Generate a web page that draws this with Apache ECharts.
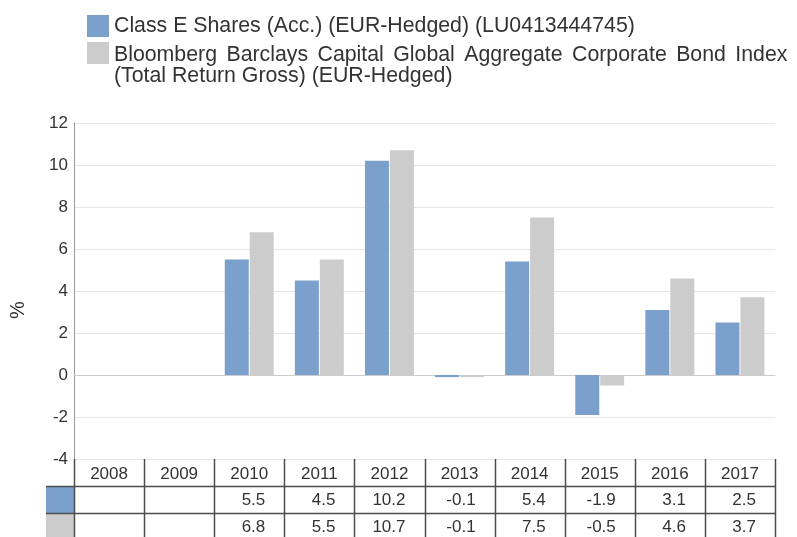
<!DOCTYPE html>
<html>
<head>
<meta charset="utf-8">
<script src="https://cdn.jsdelivr.net/npm/echarts@6/dist/echarts.min.js"></script>
<style>html,body{margin:0;padding:0;background:#fff}#c{width:797px;height:537px}</style>
</head>
<body>
<div id="c"></div>
<script>
var categories = ['2008','2009','2010','2011','2012','2013','2014','2015','2016','2017'];
var fundName = 'Class E Shares (Acc.) (EUR-Hedged) (LU0413444745)';
var indexName = 'Bloomberg Barclays Capital Global Aggregate Corporate Bond Index (Total Return Gross) (EUR-Hedged)';
var fundValues = [null, null, 5.5, 4.5, 10.2, -0.1, 5.4, -1.9, 3.1, 2.5];
var indexValues = [null, null, 6.8, 5.5, 10.7, -0.1, 7.5, -0.5, 4.6, 3.7];
var yTicks = { min: -4, max: 12, interval: 2 };

var fundColor = '#7aa0cb';
var indexColor = '#cccccc';
var FONT = '"Liberation Sans", Arial, sans-serif';
var LFS = 21.3;
var AFS = 17;

var chart = echarts.init(document.getElementById('c'), null, { renderer: 'canvas' });

function indexFormatter() {
  var words = ['Bloomberg','Barclays','Capital','Global','Aggregate','Corporate','Bond','Index'];
  var line1 = words.map(function (w) { return '{t|' + w + '}'; }).join('{s|  }');
  return line1 + '\n{t|(Total Return Gross) (EUR-Hedged)}';
}

var option = {
  animation: false,
  backgroundColor: '#fff',
  textStyle: { fontFamily: FONT },
  legend: [{
    data: [{ name: fundName, icon: 'rect' }],
    left: 87, top: 13.5, padding: 0,
    itemWidth: 22, itemHeight: 22, itemGap: 0,
    selectedMode: false,
    textStyle: { fontSize: LFS, color: '#333', fontFamily: FONT, lineHeight: 21, padding: [4, 0, 0, 0] }
  }, {
    data: [{ name: indexName, icon: 'rect' }],
    left: 87, top: 19.5, padding: 0,
    itemWidth: 22, itemHeight: 22, itemGap: 0,
    selectedMode: false,
    formatter: indexFormatter,
    textStyle: {
      fontSize: LFS, color: '#333', fontFamily: FONT, lineHeight: 21,
      padding: [25, 0, 0, 0],
      rich: {
        t: { fontSize: LFS, color: '#333', fontFamily: FONT, lineHeight: 21 },
        s: { fontSize: 17, color: '#333', fontFamily: FONT, lineHeight: 21 }
      }
    }
  }],
  grid: { left: 70, right: 22, top: 123, bottom: 78, containLabel: false },
  xAxis: {
    type: 'category',
    data: categories,
    axisLine: { show: true, lineStyle: { color: '#cccccc', width: 1 } },
    axisTick: { show: false },
    axisLabel: { color: '#333', fontSize: AFS, margin: 7, fontFamily: FONT },
    splitLine: { show: false }
  },
  yAxis: {
    type: 'value',
    min: yTicks.min, max: yTicks.max, interval: yTicks.interval,
    name: '%',
    nameLocation: 'middle',
    nameRotate: 90,
    nameGap: 46,
    nameTextStyle: { fontSize: 20, color: '#333', fontFamily: FONT, padding: [0, 38, 0, 0] },
    axisLine: { show: true, lineStyle: { color: '#999', width: 1 } },
    axisTick: { show: false },
    axisLabel: { color: '#333', fontSize: AFS, margin: 6, fontFamily: FONT },
    splitLine: { show: true, lineStyle: { color: '#e6e6e6', width: 1 } }
  },
  series: [{
    name: fundName, type: 'bar', data: fundValues,
    barWidth: 24, barGap: '4%',
    itemStyle: { color: fundColor }
  }, {
    name: indexName, type: 'bar', data: indexValues,
    barWidth: 24, barGap: '4%',
    itemStyle: { color: indexColor }
  }]
};
chart.setOption(option);

// Data table below the plot, positioned from the chart's own scales
(function () {
  var c0 = chart.convertToPixel({ xAxisIndex: 0 }, categories[0]);
  var c1 = chart.convertToPixel({ xAxisIndex: 0 }, categories[1]);
  var band = c1 - c0;
  var top = chart.convertToPixel({ yAxisIndex: 0 }, yTicks.min);
  var rowH = 27;
  var left = c0 - band / 2;
  var right = c0 + band * (categories.length - 0.5);
  var swatchLeft = left - 28;
  var bottom = 560;
  var lineColor = '#4d4d4d';
  var els = [];
  els.push({ type: 'rect', shape: { x: swatchLeft, y: top + rowH, width: left - swatchLeft, height: rowH }, style: { fill: fundColor }, z: 10 });
  els.push({ type: 'rect', shape: { x: swatchLeft, y: top + 2 * rowH, width: left - swatchLeft, height: rowH }, style: { fill: indexColor }, z: 10 });
  for (var i = 0; i <= categories.length; i++) {
    var x = Math.round(left + band * i) + 0.5;
    els.push({ type: 'line', shape: { x1: x, y1: top, x2: x, y2: bottom }, style: { stroke: lineColor, lineWidth: 1.5 }, z: 11 });
  }
  [1, 2, 3].forEach(function (r) {
    var y = Math.round(top + rowH * r) + 0.5;
    els.push({ type: 'line', shape: { x1: swatchLeft, y1: y, x2: right, y2: y }, style: { stroke: lineColor, lineWidth: 1.5 }, z: 11 });
  });
  function fmt(v) { return v == null ? '' : v.toFixed(1); }
  [fundValues, indexValues].forEach(function (arr, r) {
    arr.forEach(function (v, i) {
      if (v == null) return;
      var cx = chart.convertToPixel({ xAxisIndex: 0 }, categories[i]);
      els.push({
        type: 'text', z: 12,
        style: {
          x: cx + band / 2 - 19, y: top + rowH * (r + 1) + rowH / 2 + 1,
          text: fmt(v), align: 'right', verticalAlign: 'middle',
          fontSize: AFS, fill: '#333', fontFamily: FONT
        }
      });
    });
  });
  chart.setOption({ graphic: els });
})();
</script>
</body>
</html>
